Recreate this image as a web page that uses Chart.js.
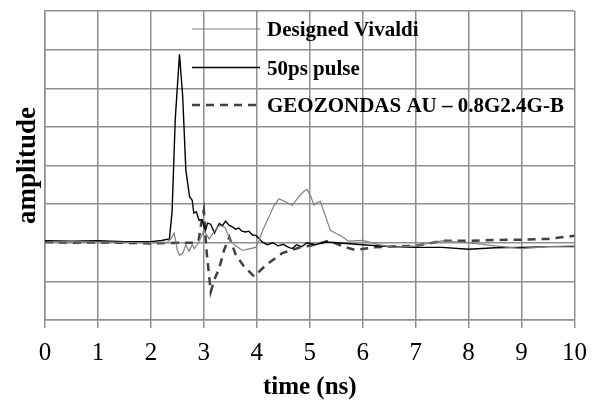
<!DOCTYPE html>
<html>
<head>
<meta charset="utf-8">
<script src="https://cdn.jsdelivr.net/npm/chart.js@4.4.0/dist/chart.umd.min.js"></script>
<style>
  html, body { margin: 0; padding: 0; background: #fff; }
  #wrap { width: 597px; height: 403px; }
</style>
</head>
<body>
<div id="wrap"><canvas id="grafico" width="597" height="403"></canvas></div>
<script>
// Datos (tiempo en ns, amplitud relativa)
const vivaldiTime = [0, 0.5, 1, 1.5, 2, 2.3, 2.38, 2.44, 2.5, 2.54, 2.6, 2.66, 2.72, 2.78, 2.82, 2.9, 3.0, 3.1, 3.2, 3.29, 3.4, 3.5, 3.6, 3.73, 3.85, 3.98, 4.04, 4.12, 4.23, 4.32, 4.42, 4.54, 4.67, 4.79, 4.88, 4.95, 5.02, 5.08, 5.14, 5.2, 5.28, 5.39, 5.5, 5.58, 5.73, 6.0, 6.3, 6.6, 7.0, 7.5, 8.0, 8.5, 9.0, 9.5, 10];
const vivaldiAmp = [0.02, 0.03, 0.02, 0.01, 0.0, 0.0, 0.1, 0.25, -0.2, -0.32, -0.28, -0.05, -0.22, -0.05, -0.15, 0.0, 0.32, 0.1, 0.3, 0.45, 0.4, 0.06, -0.08, -0.2, -0.16, -0.12, 0.06, 0.35, 0.67, 0.95, 1.14, 1.06, 0.97, 1.19, 1.32, 1.38, 1.2, 0.97, 1.05, 1.07, 0.75, 0.32, 0.24, 0.19, 0.04, 0.06, -0.05, -0.12, -0.08, 0.05, 0.0, -0.08, -0.15, -0.1, -0.08];

const pulseTime = [0, 0.5, 1, 1.5, 2, 2.2, 2.35, 2.4, 2.46, 2.54, 2.6, 2.66, 2.73, 2.78, 2.81, 2.86, 2.91, 2.96, 3.03, 3.07, 3.13, 3.2, 3.29, 3.35, 3.41, 3.48, 3.54, 3.6, 3.66, 3.72, 3.79, 3.85, 3.92, 3.98, 4.05, 4.1, 4.2, 4.3, 4.4, 4.5, 4.6, 4.67, 4.75, 4.85, 4.95, 5.1, 5.3, 5.5, 6.0, 6.5, 7.0, 7.5, 8.0, 8.5, 9.0, 9.5, 10];
const pulseAmp = [0.05, 0.04, 0.05, 0.03, 0.03, 0.06, 0.1, 0.8, 3.2, 4.88, 3.8, 1.88, 1.19, 1.1, 0.77, 0.8, 0.58, 0.6, 0.32, 0.51, 0.48, 0.25, 0.5, 0.44, 0.56, 0.45, 0.41, 0.35, 0.38, 0.3, 0.28, 0.3, 0.2, 0.19, 0.1, 0.02, -0.05, 0.0, -0.08, -0.04, -0.12, -0.15, -0.05, -0.1, 0.0, -0.05, 0.02, 0.0, -0.05, -0.1, -0.12, -0.12, -0.17, -0.13, -0.12, -0.1, -0.1];

const geoTime = [0, 0.5, 1, 1.5, 2, 2.5, 2.8, 2.9, 2.95, 3.0, 3.05, 3.13, 3.2, 3.29, 3.38, 3.48, 3.6, 3.75, 3.95, 4.17, 4.48, 4.79, 5.1, 5.36, 5.5, 5.64, 5.86, 6.2, 6.5, 7.0, 7.5, 8.0, 8.5, 9.0, 9.5, 10];
const geoAmp = [0.02, 0.0, 0.01, 0.0, -0.02, 0.0, 0.0, 0.05, 0.5, 0.84, -0.2, -1.27, -0.95, -0.66, -0.2, 0.15, -0.3, -0.6, -0.87, -0.58, -0.27, -0.13, -0.05, 0.05, -0.02, -0.1, -0.19, -0.12, -0.1, -0.08, 0.05, 0.05, 0.07, 0.08, 0.1, 0.18];

const xTicks = [0, 1, 2, 3, 4, 5, 6, 7, 8, 9, 10];

const serif = "'Liberation Serif', 'Times New Roman', serif";
const colorRejilla = '#8f8f8f';

function puntos(tiempos, valores) {
    return tiempos.map(function(t, i) { return { x: t, y: valores[i] }; });
}

// Leyenda dibujada dentro del área del gráfico
const leyendaPlugin = {
    id: 'leyendaInterna',
    afterDraw: function(chart) {
        const ctx = chart.ctx;
        const x0 = 192, x1 = 260, xt = 267;
        const filas = [29, 67.5, 105];
        ctx.save();
        ctx.font = 'bold 21px ' + serif;
        ctx.textBaseline = 'alphabetic';
        chart.data.datasets.forEach(function(ds, i) {
            const y = filas[i];
            ctx.beginPath();
            ctx.strokeStyle = ds.borderColor;
            ctx.lineWidth = ds.borderWidth;
            ctx.setLineDash(ds.borderDash || []);
            ctx.moveTo(x0, y);
            ctx.lineTo(x1, y);
            ctx.stroke();
            ctx.setLineDash([]);
            ctx.fillStyle = '#000';
            ctx.fillText(ds.label, xt, y + 7);
        });
        ctx.restore();
    }
};

const ctx = document.getElementById('grafico').getContext('2d');
new Chart(ctx, {
    type: 'line',
    data: {
        datasets: [{
            label: 'Designed Vivaldi',
            data: puntos(vivaldiTime, vivaldiAmp),
            borderColor: '#808080',
            borderWidth: 1.2,
            pointRadius: 0,
            tension: 0
        }, {
            label: '50ps pulse',
            data: puntos(pulseTime, pulseAmp),
            borderColor: '#000000',
            borderWidth: 1.4,
            pointRadius: 0,
            tension: 0
        }, {
            label: 'GEOZONDAS AU – 0.8G2.4G-B',
            data: puntos(geoTime, geoAmp),
            borderColor: '#404040',
            borderWidth: 2.5,
            borderDash: [8, 6],
            pointRadius: 0,
            tension: 0
        }]
    },
    options: {
        responsive: false,
        animation: false,
        layout: { padding: { left: 0, top: 11, right: 20, bottom: 0 } },
        plugins: {
            legend: { display: false },
            tooltip: { enabled: false }
        },
        scales: {
            x: {
                type: 'linear',
                min: 0,
                max: 10,
                afterBuildTicks: function(scale) {
                    scale.ticks = xTicks.map(function(v) { return { value: v }; });
                },
                afterFit: function(scale) { scale.height = 83; },
                grid: { color: colorRejilla, lineWidth: 1.5, tickLength: 8, tickColor: colorRejilla },
                border: { color: colorRejilla, width: 1.5 },
                ticks: { color: '#000', font: { family: serif, size: 25 }, padding: 10, maxRotation: 0 },
                title: { display: true, text: 'time (ns)', color: '#000', font: { family: serif, size: 25, weight: 'bold' }, padding: { top: 0, bottom: 0 } }
            },
            y: {
                min: -2,
                max: 6,
                afterFit: function(scale) { scale.width = 45; },
                grid: { color: colorRejilla, lineWidth: 1.5, drawTicks: false },
                border: { color: colorRejilla, width: 1.5 },
                ticks: { display: false, stepSize: 1 },
                title: { display: true, text: 'amplitude', color: '#000', font: { family: serif, size: 27, weight: 'bold' }, padding: { top: 12, bottom: 0 } }
            }
        }
    },
    plugins: [leyendaPlugin]
});
</script>
</body>
</html>
